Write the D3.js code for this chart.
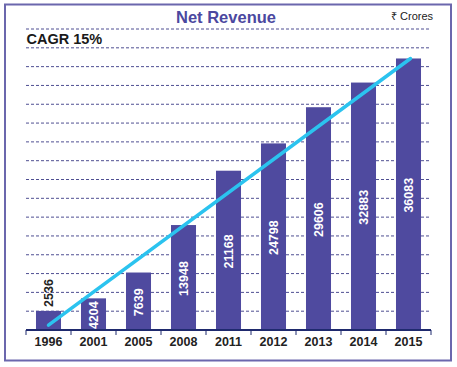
<!DOCTYPE html>
<html>
<head>
<meta charset="utf-8">
<script src="https://cdn.jsdelivr.net/npm/d3@7"></script>
<style>
  body { margin: 0; background: #fff; }
  svg { display: block; font-family: "Liberation Sans", Arial, sans-serif; }
</style>
</head>
<body>
<svg id="chart"></svg>
<script>
// data
var years = ["1996", "2001", "2005", "2008", "2011", "2012", "2013", "2014", "2015"];
var revenue = [2536, 4204, 7639, 13948, 21168, 24798, 29606, 32883, 36083];
var trendYears = ["1996", "2015"];
var trendValues = [650, 36083];
var gridValues = d3.range(2500, 40001, 2500);

var size = { width: 457, height: 367 };
var plot = { left: 26, right: 431, top: 29, bottom: 330 };

var svg = d3.select("#chart")
  .attr("width", size.width)
  .attr("height", size.height);

// frame
svg.append("rect")
  .attr("x", 5).attr("y", 4.5)
  .attr("width", 446).attr("height", 356)
  .attr("fill", "none")
  .attr("stroke", "#6b67ad")
  .attr("stroke-width", 2);

var x = d3.scaleBand()
  .domain(years)
  .range([plot.left, plot.right])
  .paddingInner(0.444)
  .paddingOuter(0.222);

var y = d3.scaleLinear()
  .domain([0, 40000])
  .range([plot.bottom, plot.top]);

// grid lines
svg.append("g")
  .selectAll("line")
  .data(gridValues)
  .enter()
  .append("line")
  .attr("x1", plot.left)
  .attr("x2", plot.right - 1)
  .attr("y1", function(d){ return y(d); })
  .attr("y2", function(d){ return y(d); })
  .attr("stroke", "#3b3b86")
  .attr("stroke-width", 0.9)
  .attr("stroke-dasharray", "3,2");

// bars
svg.append("g")
  .selectAll("rect")
  .data(revenue)
  .enter()
  .append("rect")
  .attr("x", function(d, i){ return x(years[i]); })
  .attr("y", function(d){ return y(d); })
  .attr("width", x.bandwidth())
  .attr("height", function(d){ return y(0) - y(d); })
  .attr("fill", "#4f4a9f");

// value labels (first one sits above its bar)
svg.append("g")
  .selectAll("text")
  .data(revenue)
  .enter()
  .append("text")
  .attr("transform", function(d, i){
    var cx = x(years[i]) + x.bandwidth() / 2;
    var cy = i == 0 ? y(d) - 4 : (y(d) + y(0)) / 2 + 1;
    return "translate(" + cx + "," + cy + ") rotate(-90)";
  })
  .attr("text-anchor", function(d, i){ return i == 0 ? "start" : "middle"; })
  .attr("dy", "0.36em")
  .attr("font-size", "12.5px")
  .attr("font-weight", "bold")
  .attr("fill", function(d, i){ return i == 0 ? "#222" : "#fff"; })
  .text(function(d){ return d; });

// trend line
var trend = d3.line()
  .x(function(d, i){ return x(trendYears[i]) + x.bandwidth() / 2 + (i == 1 ? 2 : 0); })
  .y(function(d){ return y(d); });

svg.append("path")
  .datum(trendValues)
  .attr("d", trend)
  .attr("fill", "none")
  .attr("stroke", "#2bc3ef")
  .attr("stroke-width", 3.5)
  .attr("stroke-linecap", "round");

// x axis
var xAxis = d3.axisBottom(x).tickSize(0).tickPadding(7);
var gx = svg.append("g")
  .attr("transform", "translate(0," + plot.bottom + ")")
  .call(xAxis);
gx.select(".domain").remove();
gx.selectAll("text")
  .attr("font-size", "12.5px")
  .attr("font-weight", "bold")
  .attr("fill", "#222")
  .attr("font-family", "Liberation Sans, Arial, sans-serif");

var bounds = years.map(function(d){ return x(d) - x.step() * x.paddingInner() / 2; });
bounds.push(plot.right);
bounds[0] = plot.left;
svg.append("g")
  .selectAll("line")
  .data(bounds)
  .enter()
  .append("line")
  .attr("x1", function(d){ return d; })
  .attr("x2", function(d){ return d; })
  .attr("y1", plot.bottom)
  .attr("y2", plot.bottom + 5)
  .attr("stroke", "#1f2a6e")
  .attr("stroke-width", 1);

svg.append("line")
  .attr("x1", plot.left)
  .attr("x2", plot.right)
  .attr("y1", plot.bottom)
  .attr("y2", plot.bottom)
  .attr("stroke", "#1f2a6e")
  .attr("stroke-width", 2.2);

// titles
svg.append("text")
  .attr("x", 226).attr("y", 23)
  .attr("text-anchor", "middle")
  .attr("font-size", "16.5px")
  .attr("font-weight", "bold")
  .attr("fill", "#4b48a0")
  .text("Net Revenue");

svg.append("text")
  .attr("x", 391).attr("y", 20)
  .attr("font-size", "11px")
  .attr("fill", "#222")
  .text("₹ Crores");

svg.append("text")
  .attr("x", 26.5).attr("y", 43.5)
  .attr("font-size", "14.5px")
  .attr("font-weight", "bold")
  .attr("fill", "#1a1a1a")
  .text("CAGR 15%");
</script>
</body>
</html>
